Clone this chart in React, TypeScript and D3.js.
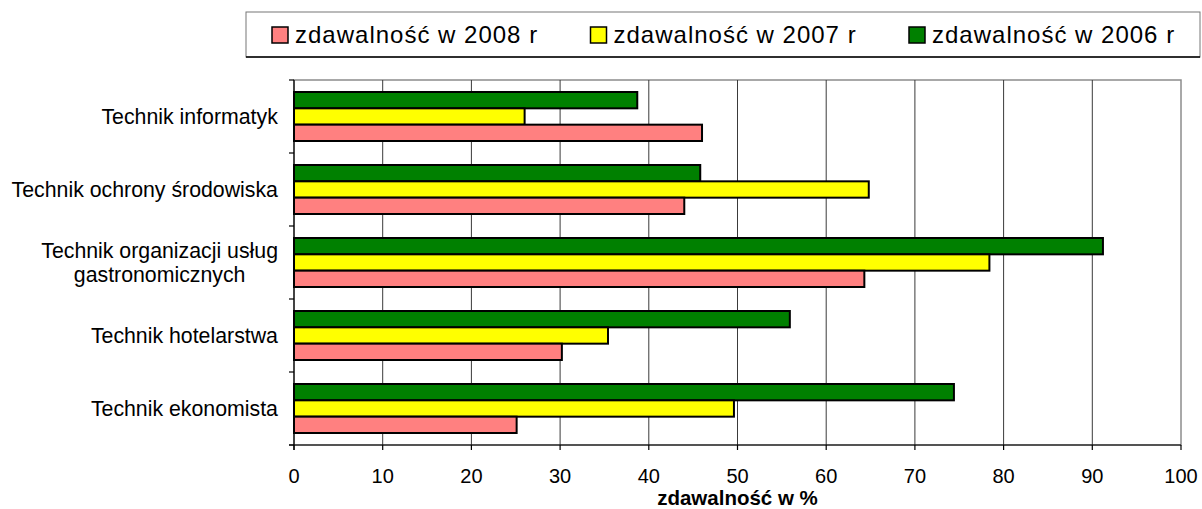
import React, { useEffect, useRef } from 'react'
import * as d3 from 'd3'

const categories = [
  ['Technik informatyk'],
  ['Technik ochrony środowiska'],
  ['Technik organizacji usług', 'gastronomicznych'],
  ['Technik hotelarstwa'],
  ['Technik ekonomista'],
]
const years2008 = [46.0, 44.0, 64.3, 30.2, 25.1]
const years2007 = [26.0, 64.8, 78.4, 35.4, 49.6]
const years2006 = [38.7, 45.8, 91.2, 55.9, 74.4]
const xTicks = [0, 10, 20, 30, 40, 50, 60, 70, 80, 90, 100]

// top-to-bottom order inside each group
const series = [
  { name: 'zdawalność w 2006 r', color: '#008000', values: years2006 },
  { name: 'zdawalność w 2007 r', color: '#FFFF00', values: years2007 },
  { name: 'zdawalność w 2008 r', color: '#FF8080', values: years2008 },
]
const legendOrder = [series[2], series[1], series[0]]

const W = 1202
const H = 509
const font = 'Arial, "Liberation Sans", sans-serif'

export default function App() {
  const ref = useRef<SVGSVGElement>(null)

  useEffect(() => {
    const svg = d3.select(ref.current)
    svg.selectAll('*').remove()

    const left = 294, right = 1181, top = 80, bottom = 445
    const x = d3.scaleLinear().domain([0, 100]).range([left, right])
    const keys = categories.map(c => c.join(' '))
    const p = 24 / 73
    const y = d3.scaleBand().domain(keys).range([top, bottom]).paddingInner(p).paddingOuter(p / 2)
    const yInner = d3.scaleBand().domain(series.map(s => s.name)).range([0, y.bandwidth()])

    // plot border
    svg.append('rect').attr('x', left).attr('y', top).attr('width', right - left).attr('height', bottom - top)
      .attr('fill', 'white').attr('stroke', '#8c8c8c').attr('stroke-width', 1.5)

    // gridlines
    svg.append('g').selectAll('line').data(xTicks.slice(1, -1)).join('line')
      .attr('x1', d => x(d)).attr('x2', d => x(d)).attr('y1', top).attr('y2', bottom)
      .attr('stroke', '#3a3a3a').attr('stroke-width', 1)

    // bars
    series.forEach(s => {
      svg.append('g').selectAll('rect').data(s.values).join('rect')
        .attr('x', x(0))
        .attr('y', (d, i) => (y(keys[i]) as number) + (yInner(s.name) as number))
        .attr('width', d => x(d) - x(0))
        .attr('height', yInner.bandwidth())
        .attr('fill', s.color).attr('stroke', 'black').attr('stroke-width', 2)
    })

    // left axis
    svg.append('line').attr('x1', left).attr('x2', left).attr('y1', top).attr('y2', bottom + 5)
      .attr('stroke', 'black').attr('stroke-width', 1.2)
    const bounds = [top, ...keys.map(k => (y(k) as number) - y.step() * p / 2 + y.step())]
    svg.append('g').selectAll('line').data(bounds).join('line')
      .attr('x1', left - 5).attr('x2', left).attr('y1', d => d).attr('y2', d => d)
      .attr('stroke', 'black').attr('stroke-width', 1.2)

    // bottom axis
    svg.append('line').attr('x1', left - 5).attr('x2', right).attr('y1', bottom).attr('y2', bottom)
      .attr('stroke', 'black').attr('stroke-width', 1.2)
    svg.append('g').selectAll('line').data(xTicks).join('line')
      .attr('x1', d => x(d)).attr('x2', d => x(d)).attr('y1', bottom).attr('y2', bottom + 5)
      .attr('stroke', 'black').attr('stroke-width', 1.2)
    svg.append('g').selectAll('text').data(xTicks).join('text')
      .attr('x', d => x(d)).attr('y', 483).attr('text-anchor', 'middle')
      .attr('font-family', font).attr('font-size', 20).text(d => d)

    svg.append('text').attr('x', (left + right) / 2).attr('y', 505).attr('text-anchor', 'middle')
      .attr('font-family', font).attr('font-size', 20.5).attr('font-weight', 'bold')
      .text('zdawalność w %')

    // category labels
    categories.forEach((lines, i) => {
      const cy = (y(keys[i]) as number) + y.bandwidth() / 2
      const t = svg.append('text').attr('font-family', font).attr('font-size', 21.3).attr('text-anchor', 'middle')
      const lh = 24
      lines.forEach((ln, j) => {
        t.append('tspan').attr('x', 0).attr('y', cy + 7.5 + (j - (lines.length - 1) / 2) * lh).text(ln)
      })
      const w = (t.node() as SVGTextElement).getBBox().width
      t.attr('transform', `translate(${278 - w / 2},0)`)
    })

    // legend
    svg.append('rect').attr('x', 246).attr('y', 12).attr('width', 954).attr('height', 45)
      .attr('fill', 'white').attr('stroke', '#777').attr('stroke-width', 1)
    svg.append('line').attr('x1', 246).attr('x2', 1200).attr('y1', 57).attr('y2', 57)
      .attr('stroke', 'black').attr('stroke-width', 1.5)
    const lg = svg.append('g').selectAll('g').data(legendOrder).join('g')
      .attr('transform', (d, i) => `translate(${272 + i * 318.5},0)`)
    lg.append('rect').attr('x', 0).attr('y', 27).attr('width', 16).attr('height', 16)
      .attr('fill', d => d.color).attr('stroke', 'black').attr('stroke-width', 1.5)
    lg.append('text').attr('x', 23).attr('y', 43.3).attr('font-family', font).attr('font-size', 24)
      .attr('letter-spacing', 1).text(d => d.name)
  }, [])

  return (
    <svg ref={ref} width={W} height={H}
      style={{ position: 'absolute', left: 0, top: 0, background: 'white' }} />
  )
}
